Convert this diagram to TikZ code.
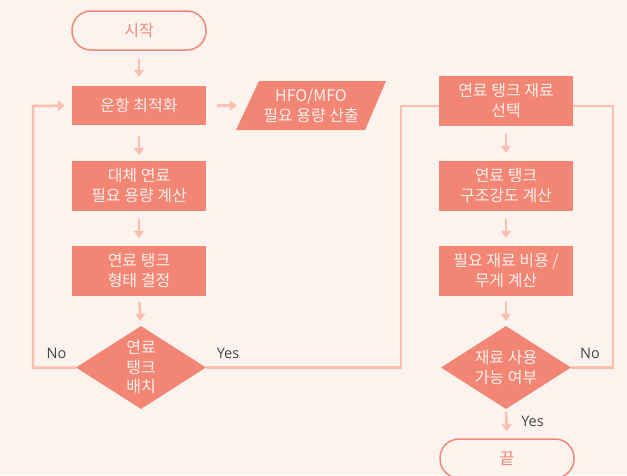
\documentclass[tikz,border=0pt]{standalone}
\usepackage{fontspec}
\setmainfont{Noto Sans CJK KR}
\newfontfamily\latinfont{Open Sans}
\usetikzlibrary{shapes.geometric,arrows.meta}
\definecolor{bg}{RGB}{252,242,238}
\definecolor{boxfill}{RGB}{242,133,115}
\definecolor{linec}{RGB}{252,190,174}
\definecolor{boxtext}{RGB}{255,240,235}
\definecolor{termc}{RGB}{240,138,118}
\definecolor{labelc}{RGB}{70,70,70}
\begin{document}
\begin{tikzpicture}[x=1pt,y=-1pt,
  proc/.style={fill=boxfill, minimum width=134pt, minimum height=50pt, text=boxtext, align=center, font=\fontsize{16}{20}\selectfont, inner sep=0pt},
  term/.style={draw=termc, line width=1.5pt, fill=bg, rounded corners=19pt, minimum width=134pt, minimum height=39pt, text=termc, font=\fontsize{16}{20}\selectfont, inner sep=0pt},
  dia/.style={diamond, fill=boxfill, minimum width=130pt, minimum height=83pt, inner sep=0pt},
  dtext/.style={text=boxtext, align=center, font=\fontsize{16}{19.5}\selectfont, inner sep=0pt},
  conn/.style={draw=linec, line width=2.5pt},
  arr/.style={conn, -{Triangle[width=10pt,length=7pt]}},
  lab/.style={text=labelc, font=\latinfont\fontsize{14.5}{16}\selectfont, inner sep=0pt}
]
\fill[bg] (0,0) rectangle (627,475);
\useasboundingbox (0,0) rectangle (627,475);

% left column
\node[term] (start) at (139,30.5) {시작};
\node[proc, minimum height=39pt] (opt) at (139,105.5) {운항 최적화};
\node[proc] (alt) at (139,186) {대체 연료\\필요 용량 계산};
\node[proc] (shp) at (139,271) {연료 탱크\\형태 결정};
\node[dia] (dec1) at (141,367.5) {};
\node[dtext] (dec1t) at (141,367.5) {연료\\탱크\\배치};

% output parallelogram
\fill[boxfill] (259,81) -- (386,81) -- (365,130) -- (236,130) -- cycle;
\node[text=boxtext, align=center, font=\fontsize{16}{20}\selectfont, inner sep=0pt, minimum width=128pt] (out) at (311,105.5) {HFO/MFO\\필요 용량 산출};

% right column
\node[proc] (sel) at (506,101) {연료 탱크 재료\\선택};
\node[proc] (str) at (506,186) {연료 탱크\\구조강도 계산};
\node[proc] (cost) at (506,271) {필요 재료 비용 /\\무게 계산};
\node[dia] (dec2) at (506,367.5) {};
\node[dtext] (dec2t) at (506,367.5) {재료 사용\\가능 여부};
\node[term] (end) at (507,458.5) {끝};

% short arrows
\draw[arr, shorten <=8pt, shorten >=9pt] (start.south) -- (opt.north);
\draw[arr, shorten <=11pt, shorten >=6pt] (opt.south) -- (alt.north);
\draw[arr, shorten <=8pt, shorten >=8pt] (alt.south) -- (shp.north);
\draw[arr, shorten <=6pt, shorten >=5pt] (shp.south) -- (dec1.north);
\draw[arr, shorten <=11pt, shorten >=10pt] (opt.east) -- (out.west);

\draw[arr, shorten <=8pt, shorten >=8pt] (sel.south) -- (str.north);
\draw[arr, shorten <=8pt, shorten >=8pt] (str.south) -- (cost.north);
\draw[arr, shorten <=6pt, shorten >=5pt] (cost.south) -- (dec2.north);
\draw[arr, shorten <=3pt, shorten >=7pt] (dec2.south) -- (end.north);

% loops
\coordinate (lc) at (33,106);
\coordinate (rc) at (401,106);
\coordinate (rc2) at (613,106);
\draw[arr, shorten >=7pt] (dec1.west) -- (dec1.west -| lc) -- (lc) -- (opt.west);
\draw[conn] (dec1.east) -- (dec1.east -| rc) -- (rc) -- (sel.west |- rc);
\draw[conn] (dec2.east) -- (dec2.east -| rc2) -- (rc2) -- (sel.east |- rc2);

% labels
\node[lab] (no1) at (56.5,353) {No};
\node[lab] (yes1) at (228,353) {Yes};
\node[lab] (no2) at (590,353) {No};
\node[lab] (yes2) at (532.5,421) {Yes};
\end{tikzpicture}
\end{document}
